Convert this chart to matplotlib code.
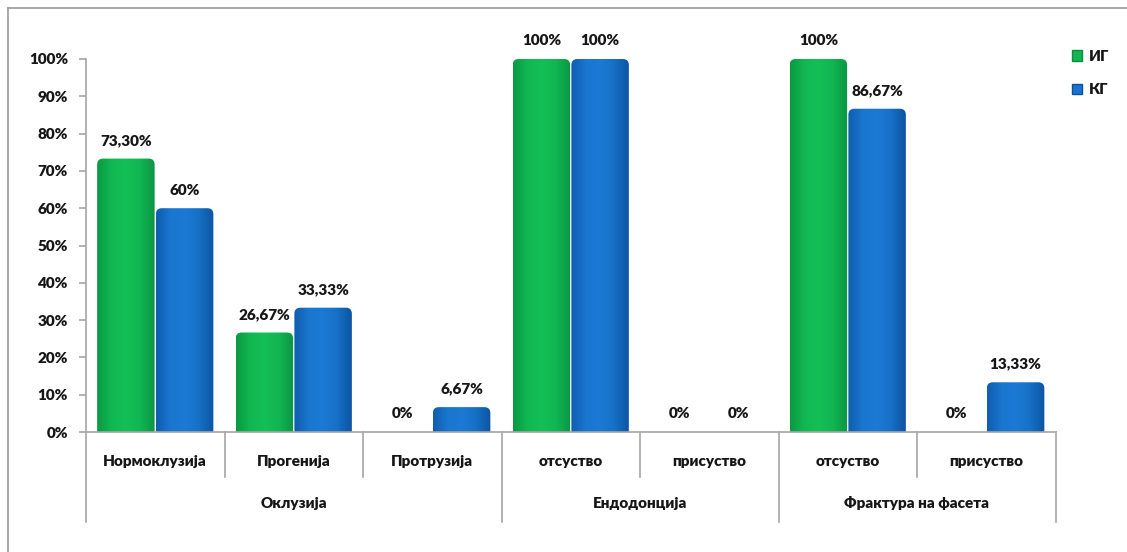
import numpy as np
import matplotlib
matplotlib.use("Agg")
import matplotlib.pyplot as plt
from matplotlib.patches import FancyBboxPatch, Patch
from matplotlib.lines import Line2D
from matplotlib.colors import LinearSegmentedColormap
import matplotlib.transforms as mtransforms

plt.rcParams['font.family'] = ['Lato', 'Open Sans', 'DejaVu Sans']

# Data
categories = ["Нормоклузија", "Прогенија", "Протрузија",
              "отсуство", "присуство", "отсуство", "присуство"]
groups = ["Оклузија", "Ендодонција", "Фрактура на фасета"]
group_sizes = [3, 2, 2]
series_names = ["ИГ", "КГ"]
ig_values = [73.30, 26.67, 0, 100, 0, 100, 0]
kg_values = [60, 33.33, 6.67, 100, 0, 86.67, 13.33]
y_ticks = [0, 10, 20, 30, 40, 50, 60, 70, 80, 90, 100]

FS = 11
WEIGHT = "heavy"
TXT = "#161616"


def fmt(v):
    if float(v).is_integer():
        return f"{int(v)}%"
    return f"{v:.2f}%".replace(".", ",")


W, H = 1127, 552
fig = plt.figure(figsize=(W / 100, H / 100), dpi=100)
ax = fig.add_axes([86 / W, (H - 432) / H, 969.5 / W, 373 / H])
ax.set_xlim(-0.5, len(categories) - 0.5)
ax.set_ylim(0, 100)

# pixel -> data scale factors for rounded corners
px_x = len(categories) / 969.5
px_y = 100 / 373

green_cmap = LinearSegmentedColormap.from_list(
    "g", ["#0a9a42", "#11b852", "#14bf57", "#11b551", "#0b9644"])
blue_cmap = LinearSegmentedColormap.from_list(
    "b", ["#0f5eaf", "#1a76cf", "#1c7ad4", "#1670c6", "#0d55a2"])

bar_w = 0.415
offsets = [-0.212, 0.212]
grad = np.linspace(0, 1, 64).reshape(1, -1)


def draw_bar(xc, h, cmap):
    if h <= 0:
        return
    r = 6 * px_x
    x0 = xc - bar_w / 2
    patch = FancyBboxPatch((x0, -10), bar_w, h + 10,
                           boxstyle=f"round,pad=0,rounding_size={r}",
                           mutation_aspect=px_y / px_x,
                           facecolor="none", edgecolor="none", zorder=2)
    ax.add_patch(patch)
    im = ax.imshow(grad, cmap=cmap, aspect="auto",
                   extent=[x0, x0 + bar_w, 0, h], zorder=2,
                   interpolation="bilinear")
    im.set_clip_path(patch)


x = np.arange(len(categories))
for vals, off, cmap in [(ig_values, offsets[0], green_cmap),
                        (kg_values, offsets[1], blue_cmap)]:
    for xi, v in zip(x, vals):
        draw_bar(xi + off, v, cmap)
        ax.annotate(fmt(v), (xi + off, v), xytext=(0, 13),
                    textcoords="offset points", ha="center", va="center",
                    fontsize=FS, fontweight=WEIGHT, color=TXT)

ax.set_xlim(-0.5, len(categories) - 0.5)
ax.set_ylim(0, 100)

# Axes styling
for s in ["top", "right"]:
    ax.spines[s].set_visible(False)
for s in ["left", "bottom"]:
    ax.spines[s].set_color("#a6a6a6")
    ax.spines[s].set_linewidth(1.2)
ax.set_yticks(y_ticks)
ax.set_yticklabels([f"{t}%" for t in y_ticks], fontsize=FS,
                   fontweight=WEIGHT, color=TXT)
ax.tick_params(axis="y", length=5, color="#a6a6a6", width=1.2, pad=8)
ax.set_xticks([])

# Two-level category axis
trans = mtransforms.blended_transform_factory(ax.transData, ax.transAxes)
lvl1 = 45 / 373
lvl2 = 90 / 373
bounds = np.cumsum([0] + group_sizes) - 0.5
for i in range(len(categories) + 1):
    xb = i - 0.5
    depth = lvl2 if np.any(np.isclose(bounds, xb)) else lvl1
    ax.add_line(Line2D([xb, xb], [0, -depth], transform=trans,
                       color="#a6a6a6", lw=1.2, clip_on=False))
for xi, c in zip(x, categories):
    ax.text(xi, -29 / 373, c, transform=trans, ha="center", va="center",
            fontsize=FS, fontweight=WEIGHT, color=TXT)
for gi, g in enumerate(groups):
    xc = (bounds[gi] + bounds[gi + 1]) / 2
    ax.text(xc, -71 / 373, g, transform=trans, ha="center", va="center",
            fontsize=FS, fontweight=WEIGHT, color=TXT)

# Legend
handles = [Patch(facecolor="#12b452", edgecolor="#0a8e3c"),
           Patch(facecolor="#1a74cc", edgecolor="#0c509a")]
leg = fig.legend(handles, series_names, loc="upper left",
                 bbox_to_anchor=(1058 / W, 1 - 36 / H), frameon=False,
                 handlelength=0.7, handleheight=0.7, handletextpad=0.4,
                 labelspacing=1.35, prop={"size": FS, "weight": WEIGHT})
for t in leg.get_texts():
    t.set_color(TXT)

# Outer frame (top and left edges)
fig.add_artist(Line2D([8 / W, 1], [1 - 8 / H, 1 - 8 / H],
                      transform=fig.transFigure, color="#9a9a9a", lw=1.2))
fig.add_artist(Line2D([8 / W, 8 / W], [0, 1 - 8 / H],
                      transform=fig.transFigure, color="#9a9a9a", lw=1.2))

fig.savefig("out.png", dpi=100)
